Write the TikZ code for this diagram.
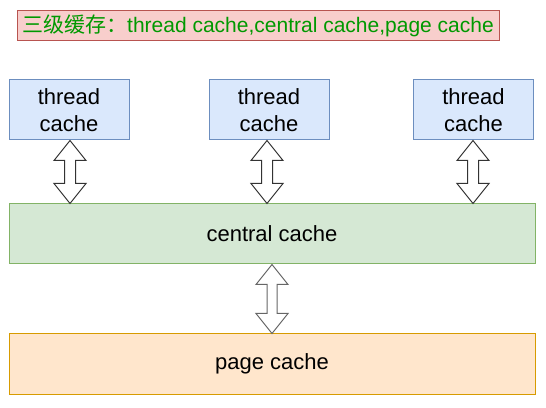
\documentclass[tikz,border=0pt]{standalone}
\usepackage{fontspec}
\setmainfont{Liberation Sans}
\newfontfamily\cjkfont{Noto Sans CJK SC}
\usetikzlibrary{calc}
\definecolor{tfill}{HTML}{F8CECC}
\definecolor{tdraw}{HTML}{B85450}
\definecolor{tgreen}{HTML}{009900}
\definecolor{bfill}{HTML}{DAE8FC}
\definecolor{bdraw}{HTML}{6C8EBF}
\definecolor{gfill}{HTML}{D5E8D4}
\definecolor{gdraw}{HTML}{82B366}
\definecolor{ofill}{HTML}{FFE6CC}
\definecolor{odraw}{HTML}{D79B00}
\definecolor{arrA}{HTML}{333333}
\definecolor{arrB}{HTML}{666666}
\newcommand\dblarr[4]{%
  \draw[line width=1pt,fill=white,draw=#4,line join=miter] let \p1=(#1), \p2=(#2) in
    (\p1) -- (\x1+16pt,\y1-20pt) -- (\x1+#3,\y1-20pt) -- (\x1+#3,\y2+20pt)
    -- (\x1+16pt,\y2+20pt) -- (\p2) -- (\x1-16pt,\y2+20pt) -- (\x1-#3,\y2+20pt)
    -- (\x1-#3,\y1-20pt) -- (\x1-16pt,\y1-20pt) -- cycle;}
\begin{document}
\begin{tikzpicture}[x=1pt,y=1pt,
  box/.style={draw,line width=1pt,minimum height=60pt,inner sep=0pt,align=center,
    font=\fontsize{22}{27}\selectfont},
  tbox/.style={box,fill=bfill,draw=bdraw,minimum width=120pt},
  wide/.style={box,minimum width=526pt}]
\useasboundingbox (0,0) rectangle (546,407);
\node[draw=tdraw,fill=tfill,line width=1pt,minimum width=482pt,minimum height=30pt,inner sep=0pt,
  text=tgreen,font=\fontsize{21}{25}\selectfont] (title) at (258,381)
  {{\cjkfont 三级缓存：}thread cache,central cache,page cache};
\node[tbox] (t1) at (69,297) {thread\\cache};
\node[tbox] (t2) at (269,297) {thread\\cache};
\node[tbox] (t3) at (473.5,297) {thread\\cache};
\node[wide,fill=gfill,draw=gdraw] (central) at (272,173) {central cache};
\node[wide,fill=ofill,draw=odraw] (page) at (272,43) {page cache};
\coordinate (a1t) at (70,0 |- t1.south);
\coordinate (a1b) at (70,0 |- central.north);
\coordinate (a2t) at (267,0 |- t2.south);
\coordinate (a2b) at (267,0 |- central.north);
\coordinate (a3t) at (473,0 |- t3.south);
\coordinate (a3b) at (473,0 |- central.north);
\coordinate (a4t) at (272,0 |- central.south);
\coordinate (a4b) at (272,0 |- page.north);
\dblarr{a1t}{a1b}{5.5pt}{arrA}
\dblarr{a2t}{a2b}{5.5pt}{arrA}
\dblarr{a3t}{a3b}{5.5pt}{arrA}
\dblarr{a4t}{a4b}{5pt}{arrB}
\end{tikzpicture}
\end{document}
